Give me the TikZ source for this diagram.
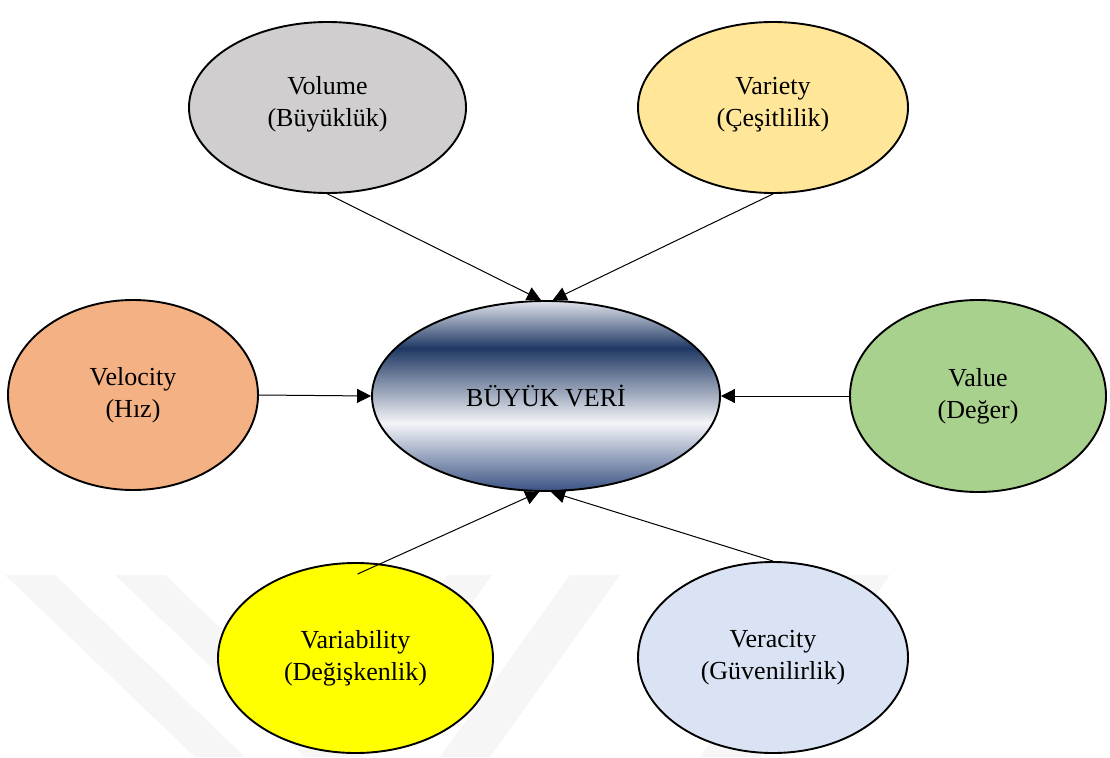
\documentclass[tikz,border=0pt]{standalone}
\usepackage{fontspec}
\setmainfont{Liberation Serif}
\usetikzlibrary{shapes.geometric,arrows.meta}

% colours of the six dimension bubbles
\definecolor{volfill}{HTML}{D0CECE}
\definecolor{varfill}{HTML}{FFE699}
\definecolor{velfill}{HTML}{F4B183}
\definecolor{valfill}{HTML}{A9D18E}
\definecolor{vabfill}{HTML}{FFFF00}
\definecolor{verfill}{HTML}{DAE3F3}
\definecolor{markgray}{HTML}{F6F6F6}

% banded navy/white fill of the central bubble
\definecolor{bandbot}{HTML}{3A5283}
\definecolor{bandwhite}{HTML}{F4F5F8}
\definecolor{bandnavy}{HTML}{1F3864}
\definecolor{bandtop}{HTML}{E0E4EC}
\pgfdeclareverticalshading{bigdata}{100bp}{%
  color(0bp)=(bandbot); color(25bp)=(bandbot);
  color(42.9bp)=(bandwhite); color(62.6bp)=(bandnavy);
  color(75bp)=(bandtop); color(100bp)=(bandtop)}

\tikzset{
  bubble/.style={ellipse, draw=black, line width=1.9pt, inner sep=0pt,
    align=center, font=\fontsize{26}{32}\selectfont},
  conn/.style={line width=1pt, -{Triangle[length=14pt,width=14pt]}},
}

\begin{document}
\begin{tikzpicture}[x=1pt,y=-1pt]
  \useasboundingbox (0,0) rectangle (1110,757);
  \fill[white] (0,0) rectangle (1110,757);

  % faint background stripes
  \fill[markgray] (5,575) -- (55,575) -- (245,757) -- (195,757) -- cycle;
  \fill[markgray] (115,575) -- (165,575) -- (355,757) -- (305,757) -- cycle;
  \fill[markgray] (447,575) -- (492,575) -- (362,757) -- (317,757) -- cycle;
  \fill[markgray] (570,575) -- (620,575) -- (490,757) -- (440,757) -- cycle;
  \fill[markgray] (830,575) -- (890,575) -- (760,757) -- (700,757) -- cycle;

  % bubbles
  \node[bubble, fill=volfill, minimum width=277, minimum height=171] (vol) at (327.5,107.5) {Volume\\(Büyüklük)\\[-20pt]};
  \node[bubble, fill=varfill, minimum width=270, minimum height=171] (var) at (773,107.5) {Variety\\(Çeşitlilik)\\[-20pt]};
  \node[bubble, fill=velfill, minimum width=250, minimum height=190] (vel) at (133,395) {Velocity\\(Hız)};
  \node[bubble, fill=valfill, minimum width=256, minimum height=192] (val) at (978,396) {Value\\(Değer)};
  \node[bubble, fill=vabfill, minimum width=275, minimum height=190] (vab) at (355.5,658) {Variability\\(Değişkenlik)};
  \node[bubble, fill=verfill, minimum width=270, minimum height=191] (ver) at (773,657.5) {Veracity\\(Güvenilirlik)};
  \node[bubble, shading=bigdata, minimum width=348, minimum height=190] (cen) at (546,396) {BÜYÜK VERİ};

  % connectors into the central bubble
  \draw[conn] (vol.south) -- (cen.93.6);
  \draw[conn] (var.south) -- (cen.86.4);
  \draw[conn] (vel.east) -- (cen.west);
  \draw[conn] (val.west) -- (cen.east);
  \draw[conn] ([xshift=2pt,yshift=-12pt]vab.north) -- (cen.266.4);
  \draw[conn] (ver.north) -- (cen.273.6);
\end{tikzpicture}
\end{document}
